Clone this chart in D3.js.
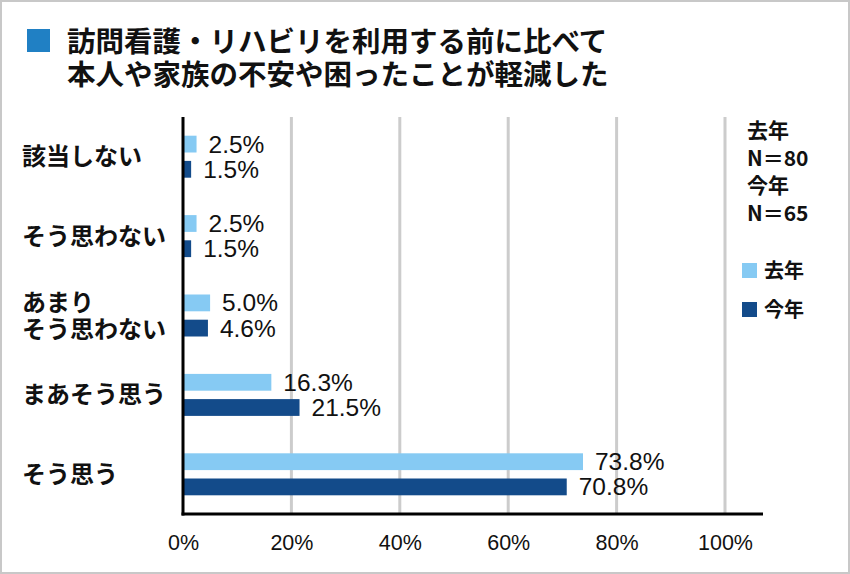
<!DOCTYPE html>
<html><head><meta charset="utf-8">
<script src="https://cdn.jsdelivr.net/npm/d3@7"></script>
<style>
body{margin:0;background:#fff;}
svg{display:block;}
</style></head>
<body>
<svg id="c" width="850" height="574"></svg>
<script>
const categories = ["該当しない", "そう思わない", "あまり\nそう思わない", "まあそう思う", "そう思う"];
const lastYear = [2.5, 2.5, 5.0, 16.3, 73.8];
const thisYear = [1.5, 1.5, 4.6, 21.5, 70.8];
const ticks = [0, 20, 40, 60, 80, 100];
const seriesNames = ["去年", "今年"];
const titleLines = ["訪問看護・リハビリを利用する前に比べて", "本人や家族の不安や困ったことが軽減した"];
const nLines = ["去年", "N＝80", "今年", "N＝65"];

const colors = ["#86CAF3", "#134B8A"];
const jp = "'Noto Sans CJK JP', sans-serif";
const lat = "'Liberation Sans', Arial, sans-serif";

const svg = d3.select("#c");
svg.append("rect").attr("x", 1).attr("y", 1).attr("width", 848).attr("height", 572)
  .attr("fill", "#fff").attr("stroke", "#c8c8c8").attr("stroke-width", 2);

// title
svg.append("rect").attr("x", 27).attr("y", 29).attr("width", 23).attr("height", 23).attr("fill", "#2080C4");
const tt = svg.append("text").attr("font-family", jp).attr("font-weight", "bold").attr("font-size", 28.5).attr("fill", "#111");
tt.selectAll("tspan").data(titleLines).join("tspan")
  .attr("x", 67).attr("y", (d, i) => 52 + i * 33).text(d => d);

const x = d3.scaleLinear().domain([0, 100]).range([183, 725]);
const y = d3.scaleBand().domain(categories).range([117, 514]);
const inner = d3.scaleBand().domain(seriesNames)
  .range([y.bandwidth() / 2 - 21, y.bandwidth() / 2 + 21]).paddingInner(1/3);

// gridlines
svg.append("g").selectAll("line").data(ticks.filter(t => t > 0)).join("line")
  .attr("x1", d => x(d)).attr("x2", d => x(d)).attr("y1", 117).attr("y2", 514)
  .attr("stroke", "#cccccc").attr("stroke-width", 3);

// bars
const groups = svg.append("g").selectAll("g").data(categories).join("g")
  .attr("transform", d => `translate(0,${y(d)})`);
groups.each(function(cat, i) {
  const g = d3.select(this);
  const vals = [lastYear[i], thisYear[i]];
  vals.forEach((v, j) => {
    const yy = inner(seriesNames[j]);
    g.append("rect").attr("x", x(0)).attr("y", yy).attr("width", x(v) - x(0)).attr("height", inner.bandwidth())
      .attr("fill", colors[j]);
    g.append("text").attr("x", x(v) + 12).attr("y", yy + inner.bandwidth() / 2 + 8.5)
      .attr("font-family", lat).attr("font-size", 24.5).attr("fill", "#111")
      .text(v.toFixed(1) + "%");
  });
});

// axes
const xAxis = d3.axisBottom(x).tickValues(ticks).tickSize(0).tickFormat(d => d + "%");
const gx = svg.append("g").attr("transform", "translate(0,514)").call(xAxis);
gx.select(".domain").remove();
gx.selectAll("text").attr("font-family", lat).attr("font-size", 21.5).attr("fill", "#111")
  .attr("y", 0).attr("dy", 36);
svg.append("line").attr("x1", 181.5).attr("x2", 763).attr("y1", 514).attr("y2", 514).attr("stroke", "#000").attr("stroke-width", 3);
svg.append("line").attr("x1", 183).attr("x2", 183).attr("y1", 117).attr("y2", 515.5).attr("stroke", "#000").attr("stroke-width", 3);

// category labels
svg.append("g").selectAll("text").data(categories).join("text")
  .attr("font-family", jp).attr("font-weight", "bold").attr("font-size", 24).attr("fill", "#111")
  .each(function(d) {
    const lines = d.split("\n");
    const cy = y(d) + y.bandwidth() / 2;
    const t = d3.select(this);
    lines.forEach((l, k) => {
      t.append("tspan").attr("x", 22).attr("y", cy + 8.5 + (k - (lines.length - 1) / 2) * 27).text(l);
    });
  });

// N labels
const nt = svg.append("text").attr("font-family", jp).attr("font-weight", "bold").attr("font-size", 21).attr("fill", "#111");
nt.selectAll("tspan").data(nLines).join("tspan")
  .attr("x", 747).attr("y", (d, i) => 138 + i * 27.5).text(d => d);

// legend
const lg = svg.append("g").selectAll("g").data(seriesNames).join("g")
  .attr("transform", (d, i) => `translate(742,${263 + i * 39})`);
lg.append("rect").attr("width", 15).attr("height", 15).attr("fill", (d, i) => colors[i]);
lg.append("text").attr("x", 22).attr("y", 14.5).attr("font-family", jp).attr("font-weight", "bold")
  .attr("font-size", 20).attr("fill", "#111").text(d => d);
</script>
</body></html>
